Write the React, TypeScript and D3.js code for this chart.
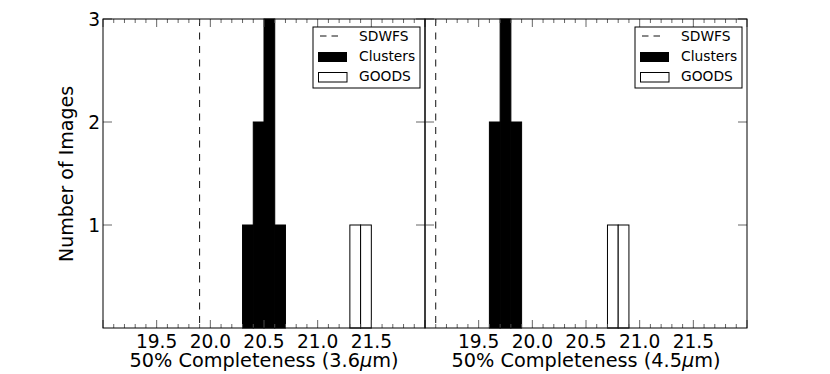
import { scaleLinear, range } from 'd3';

// histogram bins: left edge of each bin and number of images in it
const binWidth = 0.1;
const clusters36Bins = [20.3, 20.4, 20.5, 20.6];
const clusters36Counts = [1, 2, 3, 1];
const goods36Bins = [21.3, 21.4];
const goods36Counts = [1, 1];
const sdwfs36 = 19.9;

const clusters45Bins = [19.6, 19.7, 19.8];
const clusters45Counts = [2, 3, 2];
const goods45Bins = [20.7, 20.8];
const goods45Counts = [1, 1];
const sdwfs45 = 19.1;

const xMajorTicks = [19.5, 20.0, 20.5, 21.0, 21.5];
const yTicks = [1, 2, 3];
const legendLabels = ['SDWFS', 'Clusters', 'GOODS'];

const W = 830;
const H = 374;
const top = 19;
const bottom = 328;
const panelW = 322;
const font = "'DejaVu Sans', sans-serif";

const y = scaleLinear().domain([0, 3]).range([bottom, top]);

function Panel({ x0, clusterBins, clusterCounts, goodsBins, goodsCounts, sdwfs, band, showY }) {
  const x = scaleLinear().domain([19.0, 22.0]).range([x0, x0 + panelW]);
  const minor = range(190, 221).map((d) => d / 10);
  const lx = x0 + panelW - 5 - 107;
  const ly = 27;
  return (
    <g>
      {clusterBins.map((b, i) => (
        <rect
          key={'c' + i}
          x={x(b)}
          y={y(clusterCounts[i])}
          width={x(b + binWidth) - x(b)}
          height={y(0) - y(clusterCounts[i])}
          fill="#000"
          stroke="#000"
          strokeWidth={1}
        />
      ))}
      {goodsBins.map((b, i) => (
        <rect
          key={'g' + i}
          x={x(b)}
          y={y(goodsCounts[i])}
          width={x(b + binWidth) - x(b)}
          height={y(0) - y(goodsCounts[i])}
          fill="#fff"
          stroke="#000"
          strokeWidth={1}
        />
      ))}
      <line x1={x(sdwfs)} x2={x(sdwfs)} y1={top} y2={bottom} stroke="#111" strokeWidth={1} strokeDasharray="7,6.5" />

      {/* x ticks, bottom and top */}
      {minor.map((t) => {
        const major = xMajorTicks.includes(t) || t === 19 || t === 22;
        const len = major ? 8 : 4;
        return (
          <g key={'t' + t} stroke="#555" strokeWidth={0.9}>
            <line x1={x(t)} x2={x(t)} y1={bottom} y2={bottom - len} />
            <line x1={x(t)} x2={x(t)} y1={top} y2={top + len} />
          </g>
        );
      })}
      {yTicks.map((t) => (
        <g key={'y' + t} stroke="#555" strokeWidth={0.9}>
          <line x1={x0} x2={x0 + 9} y1={y(t)} y2={y(t)} />
          <line x1={x0 + panelW - 9} x2={x0 + panelW} y1={y(t)} y2={y(t)} />
        </g>
      ))}
      <rect x={x0} y={top} width={panelW} height={bottom - top} fill="none" stroke="#000" strokeWidth={1} />

      {xMajorTicks.map((t) => (
        <text key={'l' + t} x={x(t)} y={348} textAnchor="middle" fontSize={18.6} fontFamily={font}>
          {t.toFixed(1)}
        </text>
      ))}
      {showY &&
        yTicks.map((t) => (
          <text key={'yl' + t} x={x0 - 3} y={y(t) + 6.8} textAnchor="end" fontSize={18.6} fontFamily={font}>
            {t}
          </text>
        ))}
      <text x={x0 + panelW / 2} y={367} textAnchor="middle" fontSize={19.3} fontFamily={font}>
        50% Completeness ({band}
        <tspan fontStyle="italic">μ</tspan>m)
      </text>

      {/* legend */}
      <rect x={lx} y={ly} width={107} height={61} fill="#fff" stroke="#000" strokeWidth={1} />
      <line x1={lx + 7} x2={lx + 26} y1={ly + 9} y2={ly + 9} stroke="#111" strokeWidth={1} strokeDasharray="6.5,5" />
      <rect x={lx + 5} y={ly + 25} width={29} height={10} fill="#000" />
      <rect x={lx + 5.5} y={ly + 45.5} width={28.5} height={9.5} fill="#fff" stroke="#000" strokeWidth={1} />
      {legendLabels.map((s, i) => (
        <text key={s} x={lx + 46} y={ly + 14 + i * 20} fontSize={13.8} fontFamily={font}>
          {s}
        </text>
      ))}
    </g>
  );
}

export default function App() {
  return (
    <svg width={W} height={H} style={{ display: 'block', position: 'absolute', left: 0, top: 0 }}>
      <rect width={W} height={H} fill="#fff" />
      <Panel
        x0={103}
        clusterBins={clusters36Bins}
        clusterCounts={clusters36Counts}
        goodsBins={goods36Bins}
        goodsCounts={goods36Counts}
        sdwfs={sdwfs36}
        band="3.6"
        showY
      />
      <Panel
        x0={425}
        clusterBins={clusters45Bins}
        clusterCounts={clusters45Counts}
        goodsBins={goods45Bins}
        goodsCounts={goods45Counts}
        sdwfs={sdwfs45}
        band="4.5"
        showY={false}
      />
      <text
        transform="translate(73,174) rotate(-90)"
        textAnchor="middle"
        fontSize={19}
        fontFamily={font}
      >
        Number of Images
      </text>
    </svg>
  );
}
